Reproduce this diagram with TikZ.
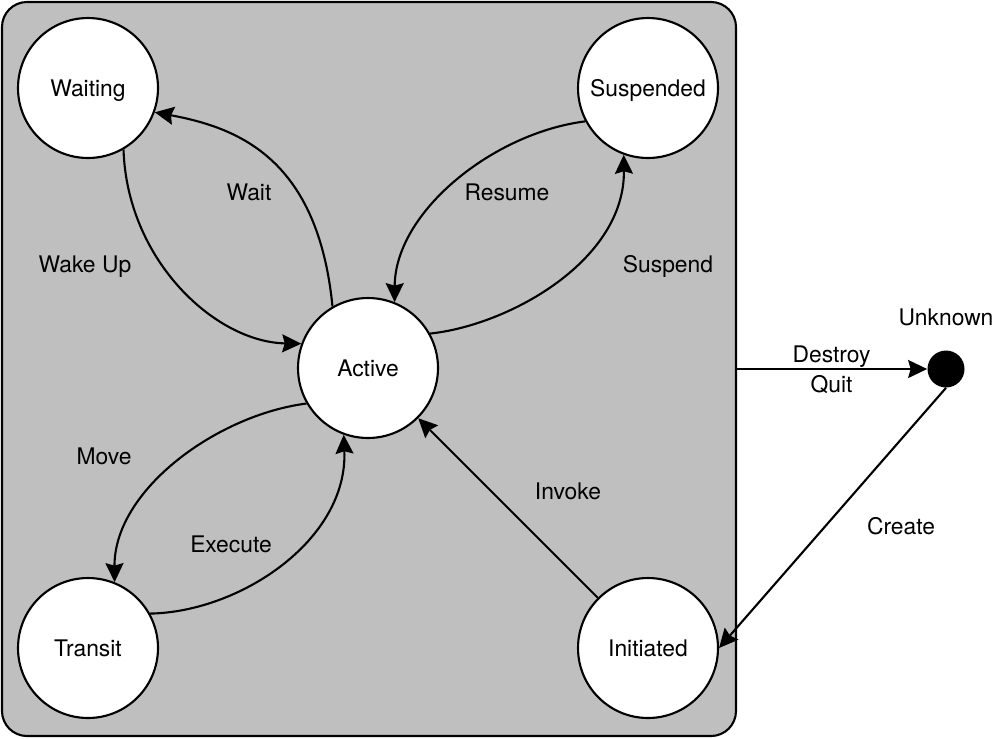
\documentclass[tikz,border=0pt]{standalone}
\usepackage{fontspec}
\setmainfont{TeX Gyre Heros}
\usetikzlibrary{arrows.meta}
\tikzset{
  every node/.style={text height=9.4pt,text depth=0pt},
  state/.style={draw,circle,fill=white,line width=1.2pt,minimum size=2.8cm,inner sep=0pt},
  arr/.style={line width=1.2pt,-{Stealth[length=0.38cm,width=0.36cm,inset=0.05cm]}},
}
\begin{document}
\begin{tikzpicture}[x=0.02cm,y=-0.02cm,font=\fontsize{13}{15}\selectfont]
  \useasboundingbox (0,0) rectangle (993,738);
  %system box
  \draw[line width=1.2pt,fill=gray!50,rounded corners=0.5cm] (2,2) rectangle (736,736);
  \coordinate (exit) at (736,369);
  %states
  \node[state] (wait) at (88,88) {Waiting};
  \node[state] (susp) at (648,88) {Suspended};
  \node[state] (act) at (368,368) {Active};
  \node[state] (trans) at (88,648) {Transit};
  \node[state] (init) at (648,648) {Initiated};
  \node[circle,fill=black,minimum size=0.74cm,inner sep=0pt] (unk) at (946,369) {};
  \node (unklbl) at (946,317) {Unknown};
  %transitions
  \draw[arr] (act.120) .. controls (318,160) and (240,128) .. (wait.-20);
  \draw[arr] (wait.-60) .. controls (127,260) and (215,342) .. (act.160);
  \draw[arr] (susp.208) .. controls (493,133) and (395,212) .. (act.68);
  \draw[arr] (act.29) .. controls (510,325) and (625,260) .. (susp.250);
  \draw[arr] (act.210) .. controls (217,415) and (114,490) .. (trans.68);
  \draw[arr] (trans.29) .. controls (240,612) and (348,540) .. (act.250);
  \draw[arr] (init) -- (act);
  \draw[arr] (exit) -- node[above] (ldes) {Destroy} node[below] (lquit) {Quit} (unk);
  \draw[arr] (unk.south) -- (init.east);
  %labels
  \node (lwait) at (249,192) {Wait};
  \node (lwake) at (85,264) {Wake Up};
  \node (lres) at (507,192) {Resume};
  \node (lsus) at (668,264) {Suspend};
  \node (lmove) at (104,456) {Move};
  \node (lexec) at (231,544) {Execute};
  \node (linv) at (568,491) {Invoke};
  \node (lcre) at (901,526) {Create};
\end{tikzpicture}
\end{document}
